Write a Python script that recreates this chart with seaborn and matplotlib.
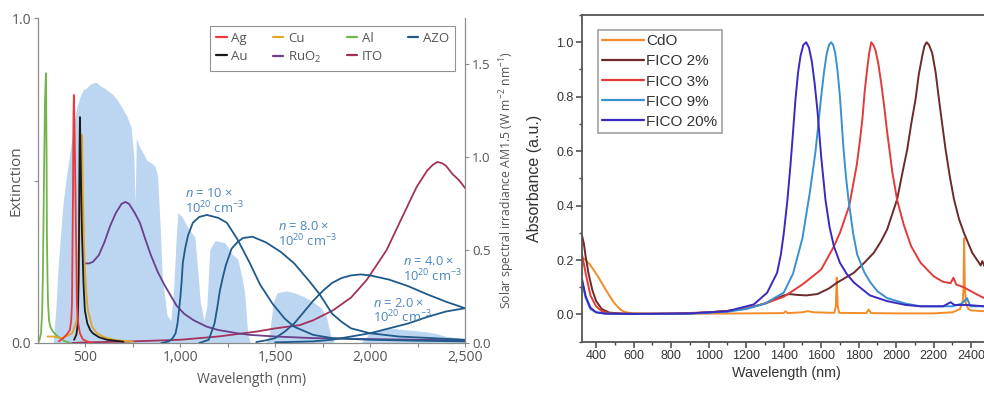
import matplotlib
matplotlib.use("Agg")
import matplotlib.pyplot as plt
from matplotlib.lines import Line2D
from matplotlib.ticker import MultipleLocator
import seaborn as sns

# ---------------- Left panel data ----------------
solar_wl = [300, 330, 345, 355, 370, 382, 400, 418, 435, 455, 470, 487, 505, 524, 545, 560, 580, 600, 613,
            640, 666, 690, 718, 740, 755, 762, 768, 787, 810, 824, 845, 866, 880, 895, 905, 930, 950, 965,
            980, 987, 1008, 1040, 1076, 1092, 1105, 1125, 1140, 1155, 1182, 1234, 1271, 1303, 1325, 1339,
            1355, 1370, 1450, 1470, 1490, 1510, 1560, 1600, 1650, 1700, 1740, 1770, 1790, 1810, 1950, 1980,
            2000, 2050, 2100, 2200, 2300, 2350, 2400, 2450, 2500]
solar_irr = [0.0, 0.0, 0.2, 0.39, 0.6, 0.75, 0.9, 1.02, 1.15, 1.27, 1.32, 1.36, 1.37, 1.39, 1.40, 1.40, 1.38,
             1.37, 1.36, 1.34, 1.31, 1.27, 1.22, 1.16, 1.0, 0.75, 1.1, 1.05, 1.01, 0.98, 0.97, 0.95, 0.9, 0.6,
             0.35, 0.15, 0.12, 0.3, 0.6, 0.70, 0.68, 0.62, 0.57, 0.39, 0.22, 0.12, 0.2, 0.5, 0.55, 0.54, 0.48,
             0.45, 0.35, 0.27, 0.05, 0.0, 0.0, 0.05, 0.22, 0.27, 0.28, 0.27, 0.25, 0.22, 0.19, 0.14, 0.05, 0.0,
             0.0, 0.03, 0.06, 0.07, 0.08, 0.07, 0.06, 0.05, 0.035, 0.03, 0.02]

al_wl = [250, 258, 266, 272, 276, 282, 287, 292, 295, 297, 300, 303, 308, 315, 329, 345, 366, 390, 420]
al_ext = [0.0, 0.01, 0.03, 0.1, 0.22, 0.53, 0.75, 0.83, 0.6, 0.33, 0.2, 0.12, 0.07, 0.05, 0.035, 0.025, 0.015, 0.006, 0.0]

ag_wl = [360, 382, 400, 418, 425, 429, 434, 437, 439, 442, 446, 450, 455, 462, 471, 485, 508, 540]
ag_ext = [0.005, 0.015, 0.025, 0.04, 0.07, 0.12, 0.43, 0.7, 0.763, 0.68, 0.52, 0.35, 0.12, 0.06, 0.03, 0.012, 0.005, 0.0]

au_wl = [440, 452, 460, 464, 466, 469, 471, 474, 478, 482, 490, 497, 510, 525, 539, 570, 613, 700]
au_ext = [0.01, 0.025, 0.06, 0.2, 0.33, 0.6, 0.695, 0.6, 0.45, 0.33, 0.18, 0.1, 0.06, 0.04, 0.03, 0.018, 0.01, 0.004]

cu_wl = [300, 330, 380, 430, 455, 465, 470, 476, 482, 487, 495, 505, 513, 535, 560, 600, 645, 750]
cu_ext = [0.02, 0.02, 0.015, 0.03, 0.07, 0.2, 0.4, 0.58, 0.64, 0.45, 0.25, 0.15, 0.1, 0.05, 0.03, 0.018, 0.01, 0.004]

ruo2_wl = [497, 520, 540, 570, 600, 630, 660, 690, 710, 730, 760, 787, 815, 845, 880, 915, 945, 980, 1020,
           1070, 1140, 1200, 1300, 1366, 1500, 1700, 2000, 2500]
ruo2_ext = [0.245, 0.245, 0.25, 0.27, 0.31, 0.36, 0.40, 0.428, 0.434, 0.428, 0.40, 0.37, 0.32, 0.27, 0.22,
            0.18, 0.15, 0.115, 0.09, 0.07, 0.05, 0.04, 0.03, 0.025, 0.02, 0.015, 0.012, 0.008]

ito_wl = [430, 500, 700, 1000, 1200, 1400, 1500, 1629, 1700, 1803, 1900, 1982, 2087, 2155, 2245, 2300, 2330,
          2355, 2380, 2400, 2434, 2470, 2500]
ito_ext = [0.0, 0.002, 0.004, 0.01, 0.02, 0.035, 0.045, 0.055, 0.07, 0.10, 0.14, 0.194, 0.286, 0.37, 0.48,
           0.53, 0.548, 0.557, 0.553, 0.545, 0.52, 0.5, 0.477]

azo10_wl = [900, 940, 960, 975, 985, 993, 1000, 1007, 1013, 1025, 1040, 1066, 1100, 1140, 1200, 1245, 1300,
            1366, 1420, 1487, 1550, 1600, 1700, 1800, 2000, 2250, 2500]
azo10_ext = [0.0, 0.005, 0.015, 0.03, 0.06, 0.1, 0.14, 0.19, 0.246, 0.29, 0.33, 0.37, 0.388, 0.394, 0.385,
             0.37, 0.32, 0.246, 0.18, 0.12, 0.075, 0.05, 0.025, 0.015, 0.01, 0.007, 0.005]
azo8_wl = [1100, 1150, 1180, 1195, 1208, 1225, 1240, 1270, 1300, 1330, 1380, 1450, 1530, 1600, 1680, 1734,
           1800, 1850, 1900, 2000, 2150, 2500]
azo8_ext = [0.0, 0.01, 0.06, 0.11, 0.16, 0.205, 0.24, 0.29, 0.31, 0.323, 0.327, 0.31, 0.28, 0.245, 0.19,
            0.15, 0.09, 0.065, 0.045, 0.03, 0.02, 0.01]
azo4_wl = [1400, 1450, 1500, 1550, 1600, 1650, 1700, 1750, 1800, 1850, 1900, 1950, 2000, 2100, 2200, 2300,
           2400, 2500]
azo4_ext = [0.003, 0.008, 0.015, 0.035, 0.06, 0.095, 0.13, 0.16, 0.185, 0.2, 0.208, 0.211, 0.208, 0.195,
            0.175, 0.15, 0.127, 0.107]
azo2_wl = [1500, 1700, 1800, 1900, 2000, 2100, 2200, 2300, 2400, 2500]
azo2_ext = [0.002, 0.005, 0.01, 0.02, 0.03, 0.045, 0.06, 0.08, 0.097, 0.107]

left_legend_labels = ["Ag", "Au", "Cu", "RuO$_2$", "Al", "ITO", "AZO"]
azo_notes = ["$n$ = 10 \u00d7\n10$^{20}$ cm$^{-3}$", "$n$ = 8.0 \u00d7\n10$^{20}$ cm$^{-3}$",
             "$n$ = 4.0 \u00d7\n10$^{20}$ cm$^{-3}$", "$n$ = 2.0 \u00d7\n10$^{20}$ cm$^{-3}$"]
azo_note_x = [1024, 1513, 2171, 2013]
azo_note_y = [0.48, 0.378, 0.271, 0.142]
left_xticks = [500, 750, 1000, 1250, 1500, 1750, 2000, 2250, 2500]
left_xticklabels = ["500", "", "1,000", "", "1,500", "", "2,000", "", "2,500"]

# ---------------- Right panel data ----------------
cdo_wl = [325, 345, 365, 386, 410, 440, 470, 495, 515, 530, 550, 567, 600, 800, 1000, 1200, 1400, 1410, 1420,
          1500, 1530, 1560, 1670, 1678, 1683, 1688, 1696, 1840, 1853, 1866, 2000, 2200, 2300, 2340, 2355,
          2359, 2362, 2366, 2372, 2385, 2400, 2470]
cdo_abs = [0.21, 0.2, 0.185, 0.165, 0.14, 0.104, 0.07, 0.044, 0.028, 0.018, 0.01, 0.007, 0.004, 0.003, 0.003,
           0.004, 0.005, 0.012, 0.005, 0.008, 0.012, 0.008, 0.006, 0.03, 0.135, 0.03, 0.006, 0.005, 0.018,
           0.005, 0.004, 0.004, 0.008, 0.02, 0.05, 0.1, 0.28, 0.1, 0.04, 0.02, 0.015, 0.012]
fico2_wl = [325, 335, 345, 360, 380, 400, 430, 470, 550, 700, 900, 1000, 1100, 1200, 1300, 1350, 1400, 1430,
            1470, 1520, 1580, 1640, 1685, 1774, 1830, 1881, 1920, 1952, 2005, 2030, 2059, 2080, 2103, 2120,
            2139, 2150, 2162, 2175, 2192, 2210, 2228, 2245, 2263, 2285, 2308, 2335, 2361, 2405, 2441, 2450,
            2459, 2470]
fico2_abs = [0.29, 0.26, 0.21, 0.15, 0.09, 0.05, 0.02, 0.007, 0.003, 0.002, 0.004, 0.008, 0.013, 0.022, 0.04,
             0.055, 0.07, 0.075, 0.072, 0.07, 0.075, 0.095, 0.117, 0.153, 0.19, 0.227, 0.27, 0.313, 0.423,
             0.51, 0.607, 0.7, 0.79, 0.88, 0.95, 0.985, 1.0, 0.99, 0.96, 0.89, 0.79, 0.7, 0.607, 0.51, 0.423,
             0.35, 0.30, 0.227, 0.19, 0.18, 0.196, 0.178]
fico3_wl = [325, 345, 370, 400, 430, 470, 600, 800, 1000, 1100, 1200, 1300, 1400, 1500, 1600, 1668, 1700, 1750,
            1790, 1805, 1820, 1832, 1845, 1856, 1867, 1878, 1890, 1905, 1920, 1935, 1950, 1980, 2005, 2040,
            2080, 2130, 2200, 2250, 2290, 2305, 2320, 2360, 2400, 2440, 2470]
fico3_abs = [0.22, 0.15, 0.07, 0.03, 0.012, 0.004, 0.002, 0.003, 0.008, 0.013, 0.022, 0.04, 0.065, 0.11, 0.165,
             0.25, 0.3, 0.4, 0.55, 0.63, 0.72, 0.82, 0.9, 0.96, 1.0, 0.99, 0.97, 0.92, 0.85, 0.77, 0.68, 0.52,
             0.42, 0.33, 0.25, 0.19, 0.14, 0.12, 0.115, 0.135, 0.11, 0.1, 0.085, 0.07, 0.06]
fico9_wl = [325, 345, 370, 400, 450, 600, 900, 1100, 1200, 1300, 1400, 1450, 1500, 1540, 1570, 1600, 1615,
            1630, 1642, 1653, 1664, 1675, 1688, 1700, 1710, 1720, 1733, 1746, 1770, 1792, 1830, 1863, 1900,
            1952, 2050, 2130, 2300, 2350, 2378, 2395, 2470]
fico9_abs = [0.12, 0.06, 0.02, 0.008, 0.003, 0.002, 0.003, 0.01, 0.02, 0.04, 0.08, 0.15, 0.28, 0.45, 0.6, 0.8,
             0.89, 0.96, 0.99, 1.0, 0.99, 0.96, 0.89, 0.8, 0.7, 0.6, 0.5, 0.42, 0.3, 0.22, 0.155, 0.117, 0.085,
             0.06, 0.04, 0.03, 0.03, 0.04, 0.06, 0.03, 0.03]
fico20_wl = [325, 345, 370, 400, 450, 600, 900, 1100, 1241, 1312, 1365, 1385, 1401, 1420, 1436, 1450, 1463,
             1477, 1490, 1505, 1520, 1535, 1550, 1565, 1580, 1600, 1623, 1645, 1668, 1700, 1735, 1775, 1860,
             1952, 2050, 2130, 2250, 2290, 2310, 2378, 2470]
fico20_abs = [0.13, 0.066, 0.025, 0.008, 0.003, 0.002, 0.004, 0.012, 0.037, 0.08, 0.153, 0.22, 0.30, 0.42,
              0.546, 0.67, 0.79, 0.89, 0.95, 0.99, 1.0, 0.98, 0.93, 0.85, 0.75, 0.58, 0.42, 0.32, 0.25, 0.19,
              0.15, 0.117, 0.07, 0.049, 0.035, 0.03, 0.03, 0.045, 0.035, 0.035, 0.03]
right_labels = ["CdO", "FICO 2%", "FICO 3%", "FICO 9%", "FICO 20%"]

# ---------------- Styling ----------------
sns.set_theme(style="white")
plt.rcParams["font.family"] = ["Open Sans", "DejaVu Sans"]
plt.rcParams["mathtext.fontset"] = "custom"
plt.rcParams["mathtext.rm"] = "Open Sans"
plt.rcParams["mathtext.it"] = "Open Sans:italic"
plt.rcParams["mathtext.bf"] = "Open Sans:bold"

grey_txt = "#555555"
grey_line = "#8a8a8a"
c_ag, c_au, c_cu, c_ruo2 = "#e8393d", "#1a1a1a", "#e0a62a", "#6b3f8a"
c_al, c_ito, c_azo = "#72b54d", "#a3325c", "#1f5a8a"
c_note = "#4a86bf"

fig = plt.figure(figsize=(9.84, 3.93), dpi=100)

# ---- left panel ----
ax = fig.add_axes([38 / 984, 1 - 343 / 393, 427 / 984, 325 / 393])
axs = ax.twinx()
axs.fill_between(solar_wl, solar_irr, 0, color="#bcd6f1", lw=0)
axs.set_ylim(0, 1.747)
axs.set_xlim(250, 2500)
ax.set_zorder(axs.get_zorder() + 1)
ax.patch.set_visible(False)

lw = 1.3
for wl, ex, col in [(ito_wl, ito_ext, c_ito), (ruo2_wl, ruo2_ext, c_ruo2),
                    (azo10_wl, azo10_ext, c_azo), (azo8_wl, azo8_ext, c_azo),
                    (azo4_wl, azo4_ext, c_azo), (azo2_wl, azo2_ext, c_azo),
                    (al_wl, al_ext, c_al), (cu_wl, cu_ext, c_cu), (au_wl, au_ext, c_au),
                    (ag_wl, ag_ext, c_ag)]:
    sns.lineplot(x=wl, y=ex, ax=ax, color=col, lw=lw, estimator=None)

ax.set_xlim(250, 2500)
ax.set_ylim(0, 1.0)
ax.set_xticks(left_xticks)
ax.set_xticklabels(left_xticklabels)
ax.set_yticks([0, 0.5, 1.0])
ax.set_yticklabels(["0.0", "", "1.0"])
axs.set_yticks([0, 0.5, 1.0, 1.5])
axs.set_yticklabels(["0.0", "0.5", "1.0", "1.5"])
ax.tick_params(axis="both", which="both", direction="out", length=3, width=0.8, color=grey_line,
               labelsize=10, labelcolor=grey_txt, bottom=True, left=True, pad=2)
axs.tick_params(axis="y", direction="out", length=3, width=0.8, color=grey_line, labelsize=9.5,
                labelcolor=grey_txt, right=True, pad=2)
for a in (ax, axs):
    a.spines["top"].set_visible(False)
    for s in ("left", "right", "bottom"):
        a.spines[s].set_color(grey_line)
        a.spines[s].set_linewidth(0.8)
ax.set_xlabel("Wavelength (nm)", fontsize=10, color=grey_txt, labelpad=5)
ax.set_ylabel("Extinction", fontsize=11, color=grey_txt)
ax.yaxis.set_label_coords(-0.034, 0.5)
axs.set_ylabel("Solar spectral irradiance AM1.5 (W m$^{-2}$ nm$^{-1}$)", fontsize=8.8, color=grey_txt,
               labelpad=5)

for txt, x, y in zip(azo_notes, azo_note_x, azo_note_y):
    ax.text(x, y, txt, fontsize=9.3, color=c_note, ha="left", va="top", linespacing=0.95)

left_cols = [c_ag, c_au, c_cu, c_ruo2, c_al, c_ito, c_azo]
handles = [Line2D([], [], color=c, lw=1.6) for c in left_cols]
lg = ax.legend(handles, left_legend_labels, ncol=4, loc="upper right", bbox_to_anchor=(0.977, 0.975),
               fontsize=9.5, frameon=True, fancybox=False, handlelength=0.8, handletextpad=0.35,
               columnspacing=1.9, labelspacing=0.35, borderpad=0.45, borderaxespad=0)
lg.get_frame().set_edgecolor("#777777")
lg.get_frame().set_linewidth(0.8)
for t in lg.get_texts():
    t.set_color(grey_txt)

# ---- right panel ----
ff = ["Liberation Sans", "DejaVu Sans"]
axr = fig.add_axes([582 / 984, 1 - 341.7 / 393, 408 / 984, 326.7 / 393])
right_series = [(cdo_wl, cdo_abs, "#f28c28"), (fico2_wl, fico2_abs, "#6e2a2a"),
                (fico3_wl, fico3_abs, "#e23b3b"), (fico9_wl, fico9_abs, "#3a90d0"),
                (fico20_wl, fico20_abs, "#3a2bc0")]
for (wl, ab, col), lab in zip(right_series, right_labels):
    sns.lineplot(x=wl, y=ab, ax=axr, color=col, lw=1.4, estimator=None, label=lab)
axr.set_xlim(325, 2500)
axr.set_ylim(-0.1, 1.1)
axr.xaxis.set_minor_locator(MultipleLocator(100))
axr.set_xticks(list(range(400, 2401, 200)))
axr.yaxis.set_minor_locator(MultipleLocator(0.1))
axr.set_yticks([0.0, 0.2, 0.4, 0.6, 0.8, 1.0])
axr.set_yticklabels(["0.0", "0.2", "0.4", "0.6", "0.8", "1.0"], family=ff)
axr.set_xticklabels([str(v) for v in range(400, 2401, 200)], family=ff)
axr.tick_params(axis="both", which="major", direction="out", length=4, width=1.1, color="#444444",
                labelsize=9, labelcolor="#333333", bottom=True, left=True, pad=2)
axr.tick_params(axis="both", which="minor", direction="out", length=2.5, width=1.0, color="#444444",
                bottom=True, left=True)
for s in axr.spines.values():
    s.set_visible(True)
    s.set_color("#555555")
    s.set_linewidth(1.3)
axr.set_xlabel("Wavelength (nm)", fontsize=10.3, color="#333333", family=ff, labelpad=3)
axr.set_ylabel("Absorbance (a.u.)", fontsize=11.5, color="#333333", family=ff, labelpad=10)
lr = axr.legend(loc="upper left", bbox_to_anchor=(0.039, 0.955), borderaxespad=0,
                prop={"family": ff, "size": 11}, frameon=True, fancybox=False, handlelength=2.7,
                handletextpad=0.15, labelspacing=0.4, borderpad=0.3)
lr.get_frame().set_edgecolor("#888888")
lr.get_frame().set_linewidth(1.2)
for t in lr.get_texts():
    t.set_color("#333333")
for h in lr.get_lines():
    h.set_linewidth(1.6)

fig.savefig("out.png", dpi=100, facecolor="white")
